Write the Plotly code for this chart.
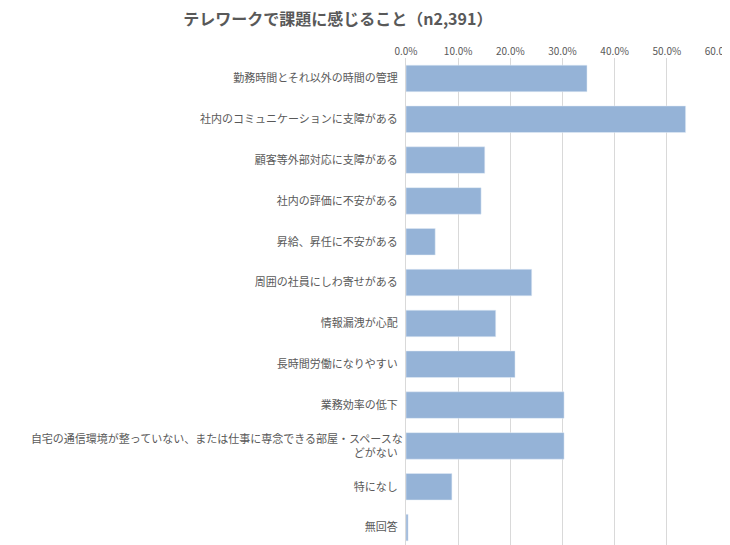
import plotly.graph_objects as go

categories = [
    "勤務時間とそれ以外の時間の管理",
    "社内のコミュニケーションに支障がある",
    "顧客等外部対応に支障がある",
    "社内の評価に不安がある",
    "昇給、昇任に不安がある",
    "周囲の社員にしわ寄せがある",
    "情報漏洩が心配",
    "長時間労働になりやすい",
    "業務効率の低下",
    "自宅の通信環境が整っていない、または仕事に専念できる部屋・スペースな<br>どがない",
    "特になし",
    "無回答",
]
values = [0.347, 0.536, 0.151, 0.144, 0.056, 0.241, 0.172, 0.209, 0.303, 0.303, 0.088, 0.004]

fig = go.Figure(go.Bar(
    x=values, y=categories, orientation="h",
    marker=dict(color="#95B3D7"), width=0.65,
))

fig.update_layout(
    width=730, height=545,
    margin=dict(l=398, r=19, t=50, b=5),
    paper_bgcolor="white", plot_bgcolor="white",
    font=dict(family="Noto Sans CJK JP", size=11, color="#595959"),
    title=dict(text="<b>テレワークで課題に感じること（n2,391）</b>",
               x=0.24, xanchor="left", y=0.99, yanchor="top",
               font=dict(size=16, color="#595959")),
    showlegend=False,
)
fig.update_xaxes(side="top", range=[0, 0.6], dtick=0.1, tickformat=".1%",
                 showgrid=True, gridcolor="#D9D9D9", zeroline=False,
                 tickfont=dict(size=10), automargin=False)
fig.update_yaxes(autorange="reversed", showline=True, linecolor="#D9D9D9",
                 ticks="", ticksuffix="  ", automargin=False)

fig.write_html("out.html")
